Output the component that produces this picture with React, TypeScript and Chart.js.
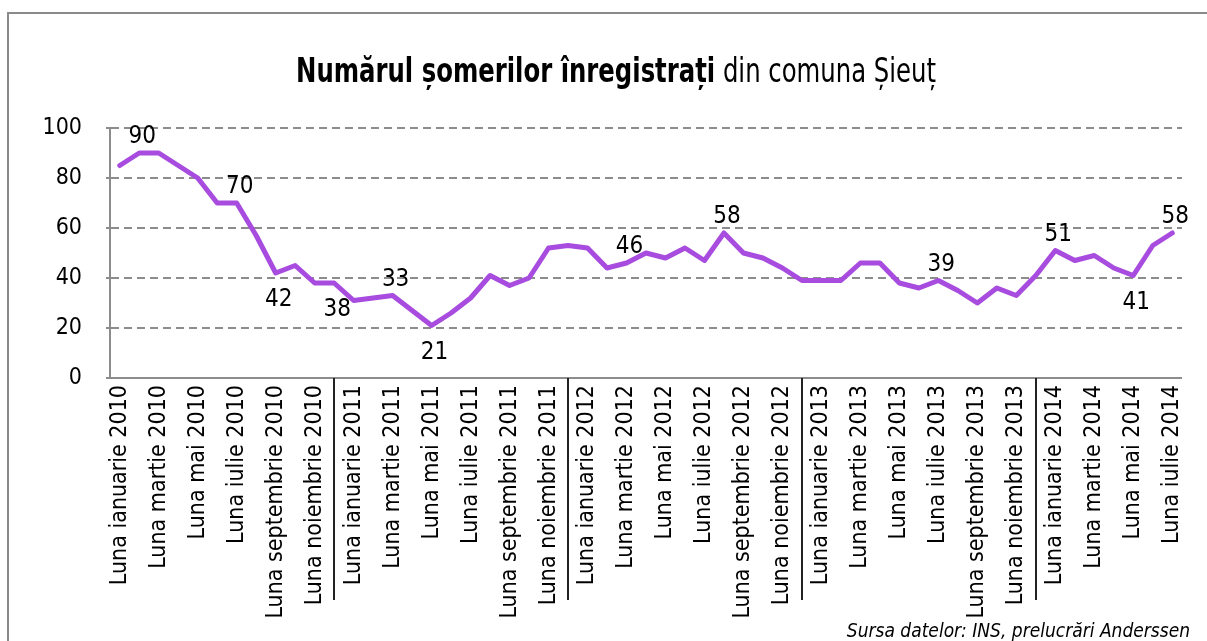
import React, { useEffect, useRef } from "react";
import { Chart, registerables } from "chart.js";

Chart.register(...registerables);

const years = [2010, 2011, 2012, 2013, 2014];
const months = [
  "ianuarie", "februarie", "martie", "aprilie", "mai", "iunie",
  "iulie", "august", "septembrie", "octombrie", "noiembrie", "decembrie",
];
const categories: string[] = [];
years.forEach((y) => {
  months.forEach((m, i) => {
    if (y === 2014 && i > 6) return;
    categories.push(`Luna ${m} ${y}`);
  });
});

const values2010 = [85, 90, 90, 85, 80, 70, 70, 57, 42, 45, 38, 38];
const values2011 = [31, 32, 33, 27, 21, 26, 32, 41, 37, 40, 52, 53];
const values2012 = [52, 44, 46, 50, 48, 52, 47, 58, 50, 48, 44, 39];
const values2013 = [39, 39, 46, 46, 38, 36, 39, 35, 30, 36, 33, 41];
const values2014 = [51, 47, 49, 44, 41, 53, 58];
const someri = [...values2010, ...values2011, ...values2012, ...values2013, ...values2014];

const labeledIdx = [1, 6, 8, 11, 14, 16, 26, 31, 42, 48, 52, 54];
const labeledSide = ["above", "above", "below", "below", "above", "below", "above", "above", "above", "above", "below", "above"];
const yearSeparatorIdx = [11, 23, 35, 47];
const yTicks = [0, 20, 40, 60, 80, 100];

const FONT = "'DejaVu Sans Condensed', 'DejaVu Sans', sans-serif";

const labelsPlugin = {
  id: "pointLabels",
  afterDatasetsDraw(chart: any) {
    const meta = chart.getDatasetMeta(0);
    const ctx = chart.ctx;
    ctx.save();
    ctx.font = `24px ${FONT}`;
    ctx.fillStyle = "#000";
    ctx.textAlign = "center";
    ctx.textBaseline = "alphabetic";
    labeledIdx.forEach((idx, k) => {
      const pt = meta.data[idx];
      if (!pt) return;
      const txt = String(someri[idx]);
      const y = labeledSide[k] === "above" ? pt.y - 10 : pt.y + 33;
      ctx.fillText(txt, pt.x + 3, y);
    });
    ctx.restore();
  },
};

const separatorPlugin = {
  id: "yearSeparators",
  afterDraw(chart: any) {
    const xs = chart.scales.x;
    const ctx = chart.ctx;
    const bottom = chart.chartArea.bottom;
    ctx.save();
    ctx.strokeStyle = "#222";
    ctx.lineWidth = 2;
    yearSeparatorIdx.forEach((idx) => {
      const x = Math.round(xs.getPixelForValue(idx));
      ctx.beginPath();
      ctx.moveTo(x, bottom);
      ctx.lineTo(x, bottom + 222);
      ctx.stroke();
    });
    ctx.restore();
  },
};

export default function App() {
  const ref = useRef<HTMLCanvasElement | null>(null);

  useEffect(() => {
    if (!ref.current) return;
    const chart = new Chart(ref.current, {
      type: "line",
      data: {
        labels: categories,
        datasets: [
          {
            data: someri,
            borderColor: "#A84CDF",
            borderWidth: 5,
            pointRadius: 0,
            tension: 0,
            fill: false,
            borderJoinStyle: "round",
            borderCapStyle: "round",
          },
        ],
      },
      options: {
        animation: false,
        responsive: false,
        maintainAspectRatio: false,
        layout: { padding: { top: 128, right: 17, bottom: 0, left: 0 } },
        plugins: {
          legend: { display: false },
          title: { display: false },
          tooltip: { enabled: false },
        },
        scales: {
          x: {
            offset: true,
            grid: { display: false, drawTicks: false },
            border: { display: true, color: "#8c8c8c", width: 2 },
            ticks: {
              autoSkip: false,
              maxRotation: 90,
              minRotation: 90,
              padding: 7,
              color: "#000",
              font: { family: FONT, size: 23 },
              callback: (_v: any, i: number) => (i % 2 === 0 ? categories[i] : ""),
            },
            afterFit: (s: any) => {
              s.height = 263;
            },
          },
          y: {
            min: 0,
            max: 100,
            afterBuildTicks: (s: any) => {
              s.ticks = yTicks.map((v) => ({ value: v }));
            },
            grid: {
              color: (c: any) => (c.tick && c.tick.value === 0 ? "rgba(0,0,0,0)" : "#8c8c8c"),
              lineWidth: 2,
              drawTicks: true,
              tickLength: 4,
              tickColor: "#8c8c8c",
              tickWidth: 2,
            },
            border: { display: true, color: "#8c8c8c", width: 2, dash: [8, 5] },
            ticks: {
              padding: 24,
              color: "#000",
              font: { family: FONT, size: 23 },
            },
            afterFit: (s: any) => {
              s.width = 110;
            },
          },
        },
      },
      plugins: [labelsPlugin, separatorPlugin],
    } as any);
    return () => chart.destroy();
  }, []);

  return (
    <div style={{ position: "fixed", left: 0, top: 0, width: 1207, height: 641, background: "#fff", overflow: "hidden" }}>
      <div
        style={{
          position: "absolute",
          left: 7,
          top: 12,
          width: 1230,
          height: 700,
          border: "2px solid #8a8a8a",
          boxSizing: "border-box",
        }}
      />
      <canvas ref={ref} width={1207} height={641} style={{ position: "absolute", left: 0, top: 0, width: 1207, height: 641 }} />
      <div
        style={{
          position: "absolute",
          left: 0,
          top: 54,
          width: 1232,
          textAlign: "center",
          fontFamily: FONT,
          fontSize: 33,
          lineHeight: 1,
          color: "#000",
          whiteSpace: "nowrap",
          transform: "scaleX(0.82)",
          transformOrigin: "616px 0px",
        }}
      >
        <b>Numărul șomerilor înregistrați</b> din comuna Șieuț
      </div>
      <div
        style={{
          position: "absolute",
          right: 17,
          top: 621,
          fontFamily: FONT,
          fontSize: 19,
          fontStyle: "italic",
          lineHeight: 1,
          color: "#000",
          whiteSpace: "nowrap",
        }}
      >
        Sursa datelor: INS, prelucrări Anderssen
      </div>
    </div>
  );
}
